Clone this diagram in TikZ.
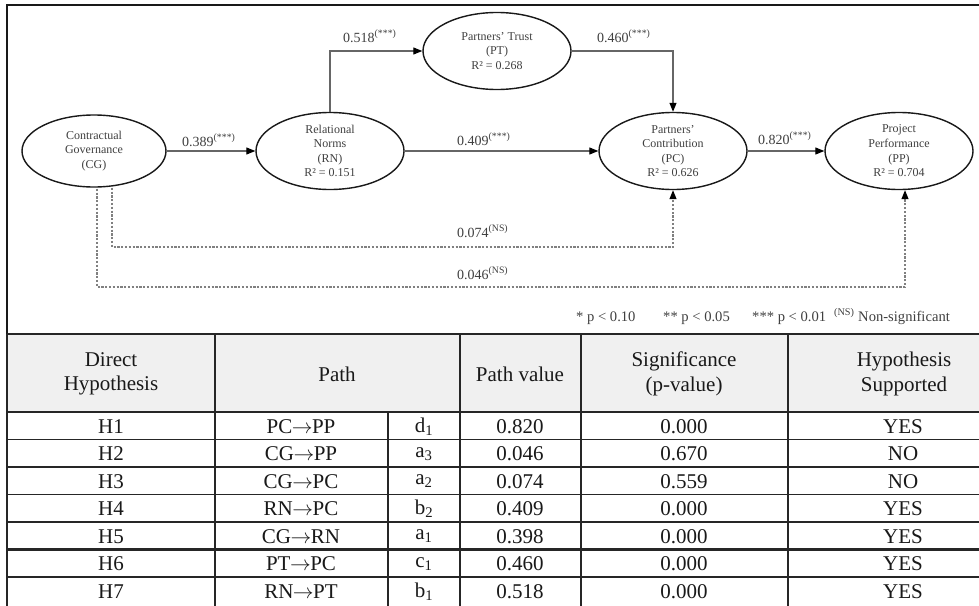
\documentclass[tikz,border=0pt]{standalone}
\usepackage{fontspec}
\setmainfont{Liberation Serif}
\usetikzlibrary{shapes.geometric,arrows.meta}
\newcommand{\pathto}{\kern-0.5pt$\rightarrow$\kern-0.5pt}
\begin{document}
\begin{tikzpicture}[x=1pt,y=-1pt,
  latent/.style={ellipse, draw=black!90, line width=1.4pt, minimum width=148pt,
    minimum height=77pt, inner sep=0pt, align=center, text=black!75,
    font=\fontsize{12}{14.6}\selectfont},
  pathline/.style={draw=black!60, line width=1.1pt,
    -{Triangle[length=9pt,width=7pt,color=black]}},
  nsline/.style={draw=black!50, line width=1.1pt, dash pattern=on 2.2pt off 1.6pt,
    -{Triangle[length=9pt,width=7pt,color=black]}},
  coef/.style={text=black!75, font=\fontsize{14}{16}\selectfont, inner sep=0pt, anchor=base west},
  legend/.style={coef, font=\fontsize{14.6}{16}\selectfont},
  cell/.style={font=\fontsize{21}{24.5}\selectfont, text=black!90, align=center, inner sep=0pt},
  rulev/.style={draw=black!85, line width=2pt},
  ruleh/.style={draw=black!85, line width=1.5pt}
]
\clip (0,0) rectangle (979,605);
\fill[white] (0,0) rectangle (979,605);

% ---------- path model ----------
\draw[draw=black!90, line width=2pt] (7,334) -- (7,5) -- (985,5);

\node[latent, minimum width=144pt, minimum height=72pt] (CG) at (94,151) {Contractual\\Governance\\(CG)};
\node[latent] (RN) at (330,151) {Relational\\Norms\\(RN)\\R² = 0.151};
\node[latent] (PT) at (497,51) {Partners’ Trust\\(PT)\\R² = 0.268};
\node[latent] (PC) at (673,151) {Partners’\\Contribution\\(PC)\\R² = 0.626};
\node[latent] (PP) at (899,151) {Project\\Performance\\(PP)\\R² = 0.704};

\draw[pathline] (CG) -- (RN);
\draw[pathline] (RN) -- (PC);
\draw[pathline] (PC) -- (PP);
\draw[pathline] (RN.north) |- (PT.west);
\draw[pathline] (PT.east) -| (PC.north);

\coordinate (cgInner) at ([xshift=18pt]CG.south);
\coordinate (cgOuter) at ([xshift=3pt,yshift=-1pt]CG.south);
\coordinate (ppFoot) at ([xshift=6pt]PP.south);
\draw[nsline] (cgInner) -- (cgInner |- 0,247) -| (PC.south);
\draw[nsline] (cgOuter) -- (cgOuter |- 0,287) -| (ppFoot);

\node[coef] (k1) at (182,146) {0.389\textsuperscript{(***)}};
\node[coef] (k2) at (343,42) {0.518\textsuperscript{(***)}};
\node[coef] (k3) at (597,42) {0.460\textsuperscript{(***)}};
\node[coef] (k4) at (457,145) {0.409\textsuperscript{(***)}};
\node[coef] (k5) at (758,144) {0.820\textsuperscript{(***)}};
\node[coef] (k6) at (457,237) {0.074\textsuperscript{(NS)}};
\node[coef] (k7) at (457,279) {0.046\textsuperscript{(NS)}};

\node[legend] (leg1) at (576,321) {* p < 0.10};
\node[legend] (leg2) at (663,321) {** p < 0.05};
\node[legend] (leg3) at (752,321) {*** p < 0.01};
\node[legend] (leg4) at (834,321) {\textsuperscript{(NS)} Non-significant};

% ---------- hypothesis table ----------
\fill[black!6] (7,334) rectangle (985,412);
\foreach \y in {412,439.5,467,494.5,522,577}
  \draw[ruleh] (7,\y) -- (985,\y);
\draw[draw=black!85, line width=2pt] (7,334) -- (985,334);
\draw[draw=black!85, line width=2.6pt] (7,549.5) -- (985,549.5);
\foreach \x in {7,215,460,581,788}
  \draw[rulev] (\x,334) -- (\x,606);
\draw[rulev] (388,412) -- (388,606);

\node[cell] (hdA) at (111,374) {Direct\\Hypothesis};
\node[cell] (hdB) at (337,374) {Path};
\node[cell] (hdC) at (520,374) {Path value};
\node[cell] (hdD) at (684,374) {Significance\\(p-value)};
\node[cell] (hdE) at (904,374) {Hypothesis\\Supported};

\foreach [count=\i] \cA/\cB/\cC/\cD/\cE/\cF/\cG/\cH in {
    H1/PC/PP/d/1/0.820/0.000/YES,
    H2/CG/PP/a/3/0.046/0.670/NO,
    H3/CG/PC/a/2/0.074/0.559/NO,
    H4/RN/PC/b/2/0.409/0.000/YES,
    H5/CG/RN/a/1/0.398/0.000/YES,
    H6/PT/PC/c/1/0.460/0.000/YES,
    H7/RN/PT/b/1/0.518/0.000/YES}
  {
    \pgfmathsetmacro{\yy}{412+27.5*(\i-1)+14.5}
    \node[cell] (hyp\i) at (111,\yy) {\cA};
    \node[cell] (pth\i) at (301,\yy) {\cB\pathto\cC};
    \node[cell] (lbl\i) at (424,\yy) {\cD\textsubscript{\cE}};
    \node[cell] (val\i) at (520,\yy) {\cF};
    \node[cell] (sig\i) at (684,\yy) {\cG};
    \node[cell] (sup\i) at (903,\yy) {\cH};
  }
\end{tikzpicture}
\end{document}
